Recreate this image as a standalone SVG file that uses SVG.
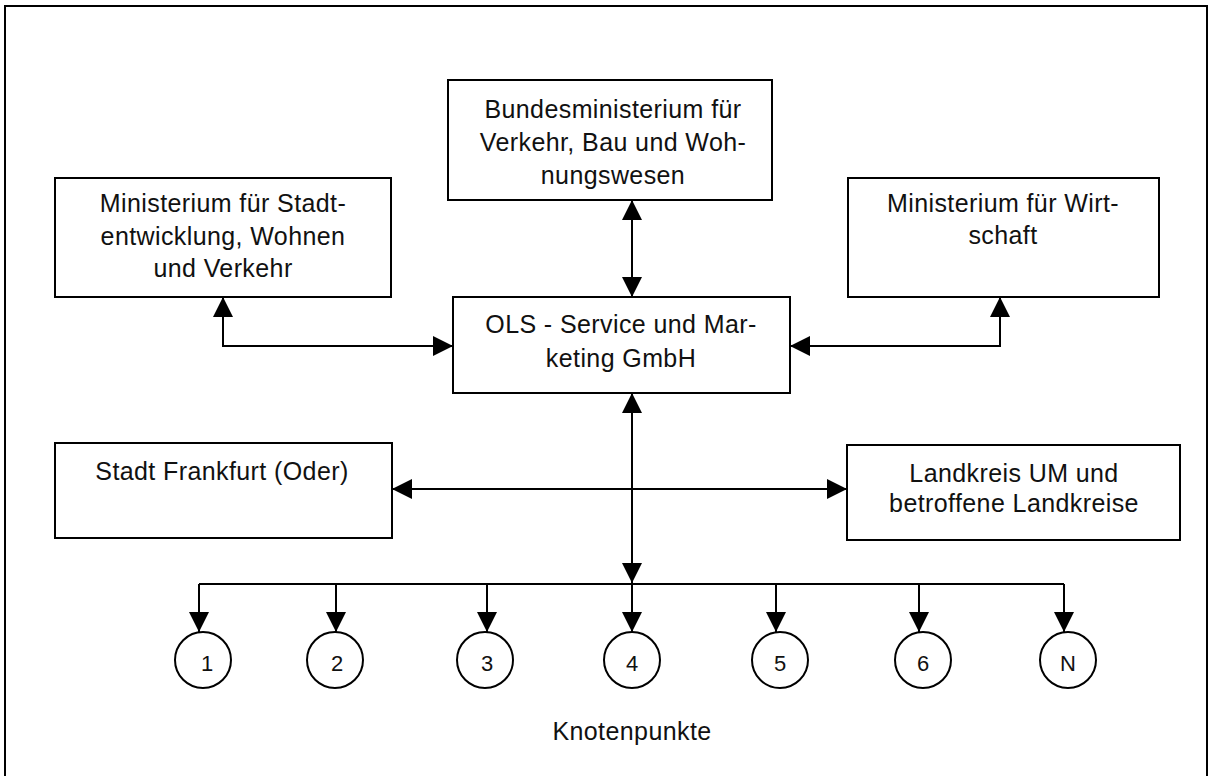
<svg xmlns="http://www.w3.org/2000/svg" width="1208" height="776" viewBox="0 0 1208 776">
<defs>
<marker id="ah" viewBox="0 0 20 20" refX="20" refY="10" markerWidth="20" markerHeight="20" orient="auto-start-reverse" markerUnits="userSpaceOnUse"><path d="M0,0 L20,10 L0,20 z" fill="#000"/></marker>
<style>
.box{fill:#fff;stroke:#000;stroke-width:2}
.c{fill:#fff;stroke:#000;stroke-width:2}
.t{font-family:"Liberation Sans",Arial,sans-serif;font-size:25px;fill:#111;text-anchor:middle;letter-spacing:0.4px}
.n{font-family:"Liberation Sans",Arial,sans-serif;font-size:22px;fill:#111;text-anchor:middle}
.ln{fill:none;stroke:#000;stroke-width:2}
</style>
</defs>
<rect x="5" y="6" width="1202" height="800" fill="#fff" stroke="#000" stroke-width="2"/>
<g id="connectors">
<path class="ln" d="M632,200 V297" marker-start="url(#ah)" marker-end="url(#ah)"/>
<path class="ln" d="M223,297 V346 H453" marker-start="url(#ah)" marker-end="url(#ah)"/>
<path class="ln" d="M1000,297 V346 H790" marker-start="url(#ah)" marker-end="url(#ah)"/>
<path class="ln" d="M632,393 V583" marker-start="url(#ah)" marker-end="url(#ah)"/>
<path class="ln" d="M392,489 H847" marker-start="url(#ah)" marker-end="url(#ah)"/>
<path class="ln" d="M199,584 H1064"/>
<path class="ln" d="M199,584 V632" marker-end="url(#ah)"/>
<path class="ln" d="M336,584 V632" marker-end="url(#ah)"/>
<path class="ln" d="M487,584 V632" marker-end="url(#ah)"/>
<path class="ln" d="M632,584 V632" marker-end="url(#ah)"/>
<path class="ln" d="M776,584 V632" marker-end="url(#ah)"/>
<path class="ln" d="M919,584 V632" marker-end="url(#ah)"/>
<path class="ln" d="M1064,584 V632" marker-end="url(#ah)"/>
</g>
<g id="bmvbw">
<rect class="box" x="448" y="80" width="324" height="120"/>
<text class="t" x="613" y="118">Bundesministerium für</text>
<text class="t" x="613" y="151">Verkehr, Bau und Woh-</text>
<text class="t" x="613" y="184">nungswesen</text>
</g>
<g id="mswv">
<rect class="box" x="55" y="178" width="336" height="119"/>
<text class="t" x="223" y="212">Ministerium für Stadt-</text>
<text class="t" x="223" y="245">entwicklung, Wohnen</text>
<text class="t" x="223" y="277">und Verkehr</text>
</g>
<g id="mw">
<rect class="box" x="848" y="178" width="311" height="119"/>
<text class="t" x="1003" y="212">Ministerium für Wirt-</text>
<text class="t" x="1003" y="244">schaft</text>
</g>
<g id="ols">
<rect class="box" x="453" y="297" width="337" height="96"/>
<text class="t" x="621" y="333">OLS - Service und Mar-</text>
<text class="t" x="621" y="367">keting GmbH</text>
</g>
<g id="frankfurt">
<rect class="box" x="55" y="443" width="337" height="95"/>
<text class="t" x="222" y="480">Stadt Frankfurt (Oder)</text>
</g>
<g id="landkreis">
<rect class="box" x="847" y="445" width="333" height="95"/>
<text class="t" x="1014" y="482">Landkreis UM und</text>
<text class="t" x="1014" y="512">betroffene Landkreise</text>
</g>
<g id="k1"><circle class="c" cx="203" cy="660" r="28"/><text class="n" x="207" y="671">1</text></g>
<g id="k2"><circle class="c" cx="335" cy="660" r="28"/><text class="n" x="337" y="671">2</text></g>
<g id="k3"><circle class="c" cx="485" cy="660" r="28"/><text class="n" x="487" y="671">3</text></g>
<g id="k4"><circle class="c" cx="632" cy="660" r="28"/><text class="n" x="632" y="671">4</text></g>
<g id="k5"><circle class="c" cx="780" cy="660" r="28"/><text class="n" x="780" y="671">5</text></g>
<g id="k6"><circle class="c" cx="923" cy="660" r="28"/><text class="n" x="923" y="671">6</text></g>
<g id="kN"><circle class="c" cx="1068" cy="660" r="28"/><text class="n" x="1068" y="671">N</text></g>
<text class="t" x="632" y="740">Knotenpunkte</text>
</svg>
